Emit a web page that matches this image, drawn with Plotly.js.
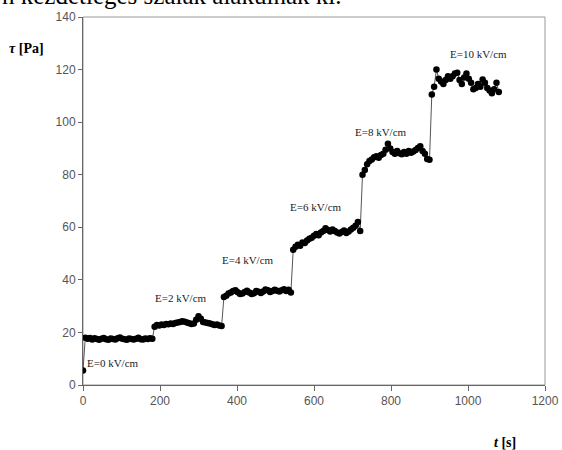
<!DOCTYPE html>
<html>
<head>
<meta charset="utf-8">
<script src="https://cdn.plot.ly/plotly-3.0.1.min.js"></script>
<style>html,body{margin:0;padding:0;background:#fff;}#chart{width:562px;height:450px;}</style>
</head>
<body>
<div id="chart"></div>
<script>
// Time (s) and shear stress tau (Pa), per field-strength segment
const t_E0 = [0, 6, 12, 18, 24, 30, 36, 42, 48, 54, 60, 66, 72, 78, 84, 90, 96, 102, 108, 114, 120, 126, 132, 138, 144, 150, 156, 162, 168, 174, 180];
const tau_E0 = [5.5, 18.0, 17.6, 17.9, 17.3, 17.8, 17.5, 17.2, 17.6, 17.9, 17.4, 17.2, 17.7, 17.5, 17.3, 17.8, 18.1, 17.6, 17.4, 17.2, 17.7, 17.5, 17.3, 17.6, 18.0, 17.4, 17.3, 17.7, 17.5, 17.8, 17.6];

const t_E2 = [186, 192, 198, 204, 210, 216, 222, 228, 234, 240, 246, 252, 258, 264, 270, 276, 282, 288, 294, 300, 306, 312, 318, 324, 330, 336, 342, 348, 354, 360];
const tau_E2 = [22.2, 22.8, 22.6, 23.0, 22.8, 23.2, 23.1, 23.4, 23.2, 23.6, 23.8, 24.0, 24.3, 24.1, 23.8, 23.5, 23.2, 23.4, 24.8, 26.2, 25.2, 24.0, 23.8, 23.6, 23.4, 23.1, 22.8, 23.0, 22.6, 22.4];

const t_E4 = [366, 372, 378, 384, 390, 396, 402, 408, 414, 420, 426, 432, 438, 444, 450, 456, 462, 468, 474, 480, 486, 492, 498, 504, 510, 516, 522, 528, 534, 540];
const tau_E4 = [33.5, 34.0, 34.8, 35.2, 35.8, 36.0, 35.3, 34.6, 34.8, 35.4, 35.9, 35.2, 34.6, 34.9, 35.8, 35.5, 35.0, 35.6, 36.3, 36.0, 35.4, 35.8, 36.2, 35.9, 35.6, 36.0, 36.4, 35.8, 36.2, 35.2];

const t_E6 = [546, 552, 558, 564, 570, 576, 582, 588, 594, 600, 606, 612, 618, 624, 630, 636, 642, 648, 654, 660, 666, 672, 678, 684, 690, 696, 702, 708, 714, 720];
const tau_E6 = [51.5, 52.6, 53.4, 53.0, 54.2, 54.0, 55.0, 55.6, 56.0, 56.8, 57.4, 57.0, 58.0, 58.6, 59.6, 59.0, 58.4, 59.2, 58.6, 58.0, 57.6, 58.2, 58.8, 57.8, 58.4, 59.2, 59.8, 60.6, 62.0, 58.6];

const t_E8 = [726, 732, 738, 744, 750, 756, 762, 768, 774, 780, 786, 792, 798, 804, 810, 816, 822, 828, 834, 840, 846, 852, 858, 864, 870, 876, 882, 888, 894, 900];
const tau_E8 = [80.0, 81.8, 84.0, 85.2, 85.8, 86.6, 87.0, 86.5, 87.5, 88.0, 89.5, 91.8, 90.0, 88.6, 88.0, 89.0, 88.2, 87.8, 88.6, 88.0, 89.0, 88.4, 88.8, 89.4, 90.2, 90.8, 89.0, 88.0, 86.0, 85.7];

const t_E10 = [906, 912, 918, 924, 930, 936, 942, 948, 954, 960, 966, 972, 978, 984, 990, 996, 1002, 1008, 1014, 1020, 1026, 1032, 1038, 1044, 1050, 1056, 1062, 1068, 1074, 1080];
const tau_E10 = [110.5, 113.5, 120.0, 116.5, 115.5, 114.5, 116.0, 117.5, 116.5, 117.5, 118.5, 118.8, 116.0, 114.5, 117.0, 118.5, 116.5, 115.0, 112.5, 113.0, 114.5, 113.5, 116.2, 115.0, 113.0, 112.0, 111.0, 112.5, 115.0, 111.5];

// Segment labels
const labelText = ["E=0 kV/cm", "E=2 kV/cm", "E=4 kV/cm", "E=6 kV/cm", "E=8 kV/cm", "E=10 kV/cm"];
const labelT = [5, 182, 356, 532, 701, 948];
const labelTau = [8.4, 33.1, 47.6, 67.8, 96.4, 126];

const xTicks = [0, 200, 400, 600, 800, 1000, 1200];
const yTicks = [0, 20, 40, 60, 80, 100, 120, 140];

const t = [].concat(t_E0, t_E2, t_E4, t_E6, t_E8, t_E10);
const tau = [].concat(tau_E0, tau_E2, tau_E4, tau_E6, tau_E8, tau_E10);

const trace = {
  x: t, y: tau, type: 'scatter', mode: 'lines+markers',
  line: {color: '#555555', width: 1},
  marker: {color: '#000000', size: 6.5},
  hoverinfo: 'none', showlegend: false
};

const annotations = labelText.map((s, i) => ({
  x: labelT[i], y: labelTau[i], xref: 'x', yref: 'y', text: s,
  showarrow: false, xanchor: 'left', yanchor: 'middle',
  font: {family: 'Liberation Serif, serif', size: 11, color: '#222'}
}));
annotations.push({
  xref: 'paper', yref: 'paper', x: -0.165, y: 0.915, xanchor: 'left', yanchor: 'middle',
  text: '<b><i>τ</i> [Pa]</b>', showarrow: false,
  font: {family: 'Liberation Serif, serif', size: 14, color: '#000'}
});
annotations.push({
  xref: 'paper', yref: 'paper', x: 0.885, y: -0.155, xanchor: 'left', yanchor: 'middle',
  text: '<b><i>t</i> [s]</b>', showarrow: false,
  font: {family: 'Liberation Serif, serif', size: 14, color: '#000'}
});
// Partially visible line of the surrounding page text (cut by the top edge in the original)
annotations.push({
  xref: 'paper', yref: 'paper', x: -0.18, y: 1.058, xanchor: 'left', yanchor: 'middle',
  text: 'n kezdetleges szálak alakulnak ki.', showarrow: false,
  font: {family: 'Liberation Serif, serif', size: 25, color: '#000'}
});

const axisCommon = {
  showgrid: false, zeroline: false, showline: true, linecolor: '#666', linewidth: 1,
  ticks: 'outside', ticklen: 4, tickcolor: '#666', tickwidth: 1,
  tickfont: {family: 'Liberation Sans, Arial, sans-serif', size: 12, color: '#555'}
};

const layout = {
  width: 562, height: 450,
  margin: {l: 83, r: 17, t: 17, b: 65},
  paper_bgcolor: '#fff', plot_bgcolor: '#fff',
  xaxis: Object.assign({}, axisCommon, {range: [0, 1200], tickvals: xTicks, ticklen: 5}),
  yaxis: Object.assign({}, axisCommon, {range: [0, 140], tickvals: yTicks}),
  shapes: [{type: 'rect', xref: 'paper', yref: 'paper', x0: 0, x1: 1, y0: 0, y1: 1,
    line: {color: '#999', width: 1}, layer: 'below'}],
  annotations: annotations
};

Plotly.newPlot('chart', [trace], layout, {staticPlot: true, displayModeBar: false});
</script>
</body>
</html>
